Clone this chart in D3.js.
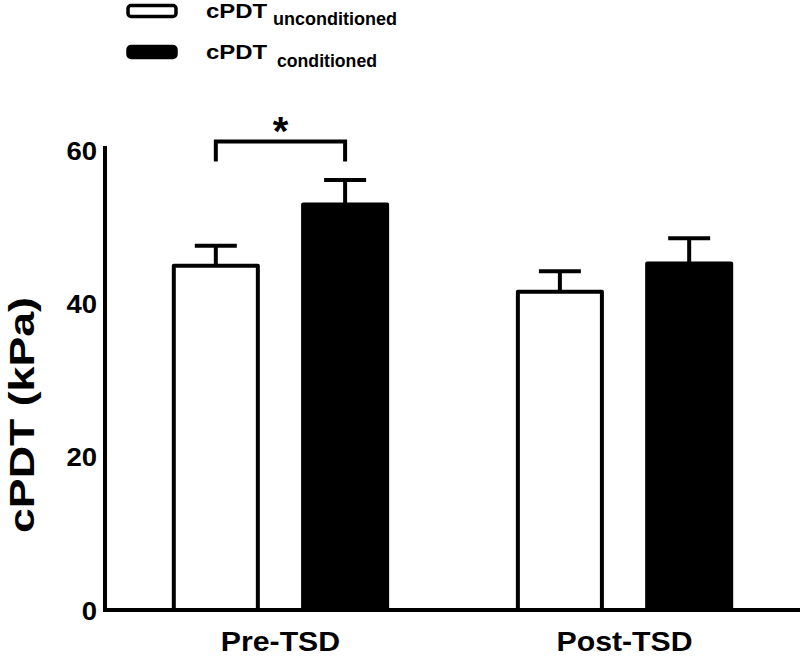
<!DOCTYPE html>
<html>
<head>
<meta charset="utf-8">
<script src="https://cdn.jsdelivr.net/npm/d3@7"></script>
<style>
  html, body { margin: 0; padding: 0; background: #fff; }
  svg { display: block; }
  text { font-family: "Liberation Sans", Arial, Helvetica, sans-serif; font-weight: bold; fill: #000; }
</style>
</head>
<body>
<svg id="chart" width="800" height="658"></svg>
<script>
// ---- data ----
const groups = ["Pre-TSD", "Post-TSD"];
const seriesKeys = ["unconditioned", "conditioned"];
const seriesLabels = ["unconditioned", "conditioned"];
const seriesFill = ["#ffffff", "#000000"];
const meanUnconditioned = [44.9, 41.5];
const meanConditioned = [52.9, 45.2];
const semUnconditioned = [2.6, 2.7];
const semConditioned = [3.2, 3.3];
const yTicks = [0, 20, 40, 60];
const yTitle = "cPDT  (kPa)";
const sigGroup = "Pre-TSD";
const sigLevel = 61.1;
const sigLabel = "*";

const rows = [];
groups.forEach((g, i) => {
  rows.push({group: g, key: "unconditioned", mean: meanUnconditioned[i], sem: semUnconditioned[i], fill: seriesFill[0]});
  rows.push({group: g, key: "conditioned", mean: meanConditioned[i], sem: semConditioned[i], fill: seriesFill[1]});
});

// ---- layout ----
const svg = d3.select("#chart");
const x0 = 105, xEnd = 800, yBottom = 610, yTop = 150;

const y = d3.scaleLinear().domain([0, 60]).range([yBottom, yTop]);
const xg = d3.scaleBand().domain(groups).range([x0, xEnd]).paddingInner(0.38).paddingOuter(0.2);
const xs = d3.scaleBand().domain(seriesKeys).range([0, xg.bandwidth()]).paddingInner(0.35).paddingOuter(0);

function stretch(sel, k) {
  sel.each(function() {
    const L = this.getComputedTextLength();
    d3.select(this).attr("textLength", L * k).attr("lengthAdjust", "spacingAndGlyphs");
  });
}

// bars
svg.append("g").selectAll("rect").data(rows).join("rect")
  .attr("x", d => xg(d.group) + xs(d.key))
  .attr("y", d => y(d.mean))
  .attr("width", xs.bandwidth())
  .attr("height", d => y(0) - y(d.mean))
  .attr("fill", d => d.fill)
  .attr("stroke", "#000")
  .attr("stroke-width", 4)
  .attr("stroke-linejoin", "round");

// error bars (upper only)
const capW = 42;
const eb = svg.append("g").attr("stroke", "#000").attr("stroke-width", 4);
rows.forEach(d => {
  const cx = xg(d.group) + xs(d.key) + xs.bandwidth() / 2;
  eb.append("line").attr("x1", cx).attr("x2", cx).attr("y1", y(d.mean)).attr("y2", y(d.mean + d.sem));
  eb.append("line").attr("x1", cx - capW / 2).attr("x2", cx + capW / 2).attr("y1", y(d.mean + d.sem)).attr("y2", y(d.mean + d.sem));
});

// axes
const yAxis = d3.axisLeft(y).tickValues(yTicks).tickSize(0).tickPadding(8).tickFormat(d3.format("d"));
const gy = svg.append("g").attr("transform", `translate(${x0},0)`).call(yAxis);
gy.select(".domain").remove();
gy.selectAll("text").attr("font-size", 25).attr("font-weight", "bold").attr("font-family", null).attr("dy", "0.36em");
stretch(gy.selectAll("text"), 1.1);

svg.append("line").attr("x1", x0).attr("x2", x0).attr("y1", y(60) - 2).attr("y2", yBottom)
  .attr("stroke", "#000").attr("stroke-width", 4).attr("stroke-linecap", "square");

const xAxis = d3.axisBottom(xg).tickSize(0).tickPadding(0);
const gx = svg.append("g").attr("transform", `translate(0,${yBottom})`).call(xAxis);
gx.select(".domain").remove();
gx.selectAll("text").attr("font-size", 27).attr("font-weight", "bold").attr("font-family", null)
  .attr("dy", null).attr("y", 41);
stretch(gx.selectAll("text"), 1.12);

svg.append("line").attr("x1", x0).attr("x2", xEnd).attr("y1", yBottom).attr("y2", yBottom)
  .attr("stroke", "#000").attr("stroke-width", 4);

// y title
svg.append("text")
  .attr("transform", `translate(34,415) rotate(-90)`)
  .attr("text-anchor", "middle")
  .attr("font-size", 35)
  .attr("textLength", 236).attr("lengthAdjust", "spacingAndGlyphs")
  .text(yTitle);

// significance bracket
const bx1 = xg(sigGroup) + xs("unconditioned") + xs.bandwidth() / 2;
const bx2 = xg(sigGroup) + xs("conditioned") + xs.bandwidth() / 2;
const by = y(sigLevel);
svg.append("path")
  .attr("d", `M${bx1},${by + 20}V${by}H${bx2}V${by + 20}`)
  .attr("fill", "none").attr("stroke", "#000").attr("stroke-width", 4);
svg.append("text").attr("x", (bx1 + bx2) / 2).attr("y", by + 3)
  .attr("text-anchor", "middle").attr("font-size", 40).text(sigLabel);

// legend
const legend = svg.append("g");
const legRowY = [11, 52];
const subLen = [124, 100];
seriesKeys.forEach((k, i) => {
  const g = legend.append("g").attr("transform", `translate(0,${legRowY[i]})`);
  g.append("rect").attr("x", 128).attr("y", -5.5).attr("width", 48).attr("height", 11).attr("rx", 3)
    .attr("fill", seriesFill[i]).attr("stroke", "#000").attr("stroke-width", 3.5);
  const t = g.append("text").attr("x", 206).attr("y", 6.5 + i * 0.5).attr("font-size", 21).text("cPDT");
  stretch(t, 1.14);
  g.append("text").attr("x", 273 + i * 4).attr("y", 13.5 + i * 1.5).attr("font-size", 18)
    .attr("textLength", subLen[i]).attr("lengthAdjust", "spacingAndGlyphs").text(seriesLabels[i]);
});
</script>
</body>
</html>
